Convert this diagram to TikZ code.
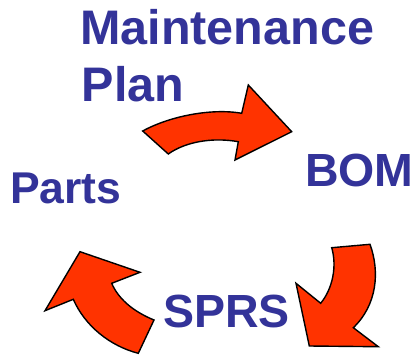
\documentclass[tikz,border=0pt]{standalone}
\usepackage{fontspec}
\setmainfont{Liberation Sans}
\definecolor{lbl}{HTML}{333399}
\definecolor{arr}{HTML}{FF3300}
\begin{document}
\begin{tikzpicture}[x=1pt,y=-1pt,
  lab/.style={inner sep=0pt,anchor=base west,text=lbl,font=\fontsize{#1}{#1}\selectfont\bfseries},
  lab/.default=46,
  cyc/.style={fill=arr,draw=black,line width=1.4pt,line join=miter}]
\useasboundingbox (0,0) rectangle (419,358);
\node[lab=48.5,xscale=1.0] (mp1) at (80,45) {Maintenance};
\node[lab=48.5] (mp2) at (81.5,101.7) {Plan};
\node[lab=44.5] (parts) at (10,203.3) {Parts};
\node[lab=46.5] (bom) at (305,186.7) {BOM};
\node[lab=46.5] (sprs) at (163,327) {SPRS};
% top arrow
\draw[cyc] (142.7,131) .. controls (170,116) and (212,108) .. (241.7,113.3)
  -- (248.3,85) -- (291.7,131.7) -- (235,160) -- (238.3,141.7)
  .. controls (212,137) and (185,142) .. (168.3,154) -- cycle;
% right arrow
\draw[cyc] (331.7,247.7) -- (370,244.3) .. controls (380,272) and (377,305) .. (353.3,327.7)
  -- (378.3,346.7) -- (309.3,346) -- (296,283.3) -- (320.7,303.3)
  .. controls (333,288) and (337,266) .. (331.7,247.7) -- cycle;
% bottom-left arrow
\draw[cyc] (138.3,353.3) -- (154,320) .. controls (132,311) and (118,298) .. (111.7,283.3)
  -- (140,272.3) -- (80,251.7) -- (45,310.7) -- (73.3,299.3)
  .. controls (85,326) and (110,346) .. (138.3,353.3) -- cycle;
\end{tikzpicture}
\end{document}
